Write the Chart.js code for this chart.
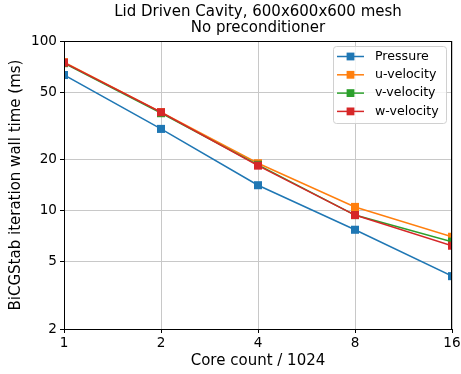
<!DOCTYPE html>
<html>
<head>
<meta charset="utf-8">
<title>Lid Driven Cavity</title>
<script src="https://cdn.jsdelivr.net/npm/chart.js@4.4.0/dist/chart.umd.min.js"></script>
<style>
    body { margin: 0; background: #ffffff; }
    #wrap { width: 461px; height: 374px; }
</style>
</head>
<body>
<div id="wrap"><canvas id="cavityChart" width="461" height="374"></canvas></div>
<script>
// Values (ms per BiCGStab iteration)
const coreCounts = [1, 2, 4, 8, 16];
const pressureTimes = [63, 30.3, 14.1, 7.7, 4.1];
const uVelocityTimes = [75, 38, 19, 10.5, 7.0];
const vVelocityTimes = [74, 37.5, 18.6, 9.4, 6.55];
const wVelocityTimes = [74.5, 38, 18.4, 9.4, 6.2];

const seriesNames = ['Pressure', 'u-velocity', 'v-velocity', 'w-velocity'];
const seriesColors = ['#1f77b4', '#ff7f0e', '#2ca02c', '#d62728'];

const xTickValues = [1, 2, 4, 8, 16];
const yTickValues = [2, 5, 10, 20, 50, 100];
const titleLines = ['Lid Driven Cavity, 600x600x600 mesh', 'No preconditioner'];

const FONT = '"DejaVu Sans", sans-serif';

function toPoints(values) {
    return coreCounts.map((x, i) => ({ x: x, y: values[i] }));
}

const allSeries = [pressureTimes, uVelocityTimes, vVelocityTimes, wVelocityTimes];

const datasets = allSeries.map((values, i) => ({
    label: seriesNames[i],
    data: toPoints(values),
    borderColor: seriesColors[i],
    backgroundColor: seriesColors[i],
    borderWidth: 1.5,
    pointStyle: 'rect',
    pointRadius: 5.7,
    pointBorderWidth: 0,
    pointHoverRadius: 5.7,
    tension: 0,
    clip: 0,
    order: allSeries.length - i   // later series drawn on top, like matplotlib
}));

// frame, two-line title centred on the axes, and an in-axes legend
const decorPlugin = {
    id: 'decor',
    afterDraw(chart) {
        const { ctx, chartArea: a } = chart;
        ctx.save();

        // spines
        ctx.strokeStyle = '#000000';
        ctx.lineWidth = 1;
        ctx.strokeRect(Math.round(a.left) + 0.5, Math.round(a.top) + 0.5,
            Math.round(a.right - a.left) - 1, Math.round(a.bottom - a.top));

        // title
        ctx.fillStyle = '#000000';
        ctx.font = '15px ' + FONT;
        ctx.textAlign = 'center';
        ctx.textBaseline = 'middle';
        const cx = (a.left + a.right) / 2;
        titleLines.forEach((line, i) => ctx.fillText(line, cx, 12 + i * 16));

        // legend
        const bw = 113, bh = 77;
        const bx = a.right - bw - 6, by = a.top + 5;
        ctx.beginPath();
        ctx.roundRect(bx + 0.5, by + 0.5, bw, bh, 3);
        ctx.fillStyle = 'rgba(255,255,255,0.8)';
        ctx.fill();
        ctx.strokeStyle = '#d0d0d0';
        ctx.lineWidth = 1;
        ctx.stroke();

        ctx.font = '12.6px ' + FONT;
        ctx.textAlign = 'left';
        seriesNames.forEach((name, i) => {
            const y = by + 10.5 + i * 18.3;
            ctx.strokeStyle = seriesColors[i];
            ctx.lineWidth = 1.5;
            ctx.beginPath();
            ctx.moveTo(bx + 4, y);
            ctx.lineTo(bx + 31, y);
            ctx.stroke();
            ctx.fillStyle = seriesColors[i];
            ctx.fillRect(bx + 17.5 - 3.9, y - 3.9, 7.8, 7.8);
            ctx.fillStyle = '#000000';
            ctx.fillText(name, bx + 42, y);
        });

        ctx.restore();
    }
};

const config = {
    type: 'line',
    data: { datasets: datasets },
    options: {
        responsive: false,
        devicePixelRatio: 1,
        animation: false,
        layout: { padding: { top: 41, right: 9, left: 0, bottom: 0 } },
        plugins: {
            legend: { display: false },
            title: { display: false },
            tooltip: { enabled: false }
        },
        scales: {
            x: {
                type: 'logarithmic',
                min: 1,
                max: 16,
                afterBuildTicks: (scale) => {
                    scale.ticks = xTickValues.map(v => ({ value: v }));
                },
                afterFit: (scale) => {
                    scale.height = 45;
                    scale.paddingRight = 0;
                },
                grid: {
                    color: '#c8c8c8',
                    lineWidth: 1,
                    tickColor: '#000000',
                    tickLength: 4
                },
                border: { color: '#000000', width: 1 },
                ticks: {
                    color: '#000000',
                    padding: 2,
                    maxRotation: 0,
                    autoSkip: false,
                    font: { family: FONT, size: 13.6 },
                    callback: (value) => String(value)
                },
                title: {
                    display: true,
                    text: 'Core count / 1024',
                    color: '#000000',
                    padding: { top: 0, bottom: 4 },
                    font: { family: FONT, size: 15 }
                }
            },
            y: {
                type: 'logarithmic',
                min: 2,
                max: 100,
                afterBuildTicks: (scale) => {
                    scale.ticks = yTickValues.map(v => ({ value: v }));
                },
                afterFit: (scale) => { scale.width = 64; },
                grid: {
                    color: '#c8c8c8',
                    lineWidth: 1,
                    tickColor: '#000000',
                    tickLength: 4
                },
                border: { color: '#000000', width: 1 },
                ticks: {
                    color: '#000000',
                    padding: 3,
                    autoSkip: false,
                    font: { family: FONT, size: 13.6 },
                    callback: (value) => String(value)
                },
                title: {
                    display: true,
                    text: 'BiCGStab iteration wall time (ms)',
                    color: '#000000',
                    padding: { top: 7, bottom: 0 },
                    font: { family: FONT, size: 15 }
                }
            }
        }
    },
    plugins: [decorPlugin]
};

new Chart(document.getElementById('cavityChart'), config);
</script>
</body>
</html>
